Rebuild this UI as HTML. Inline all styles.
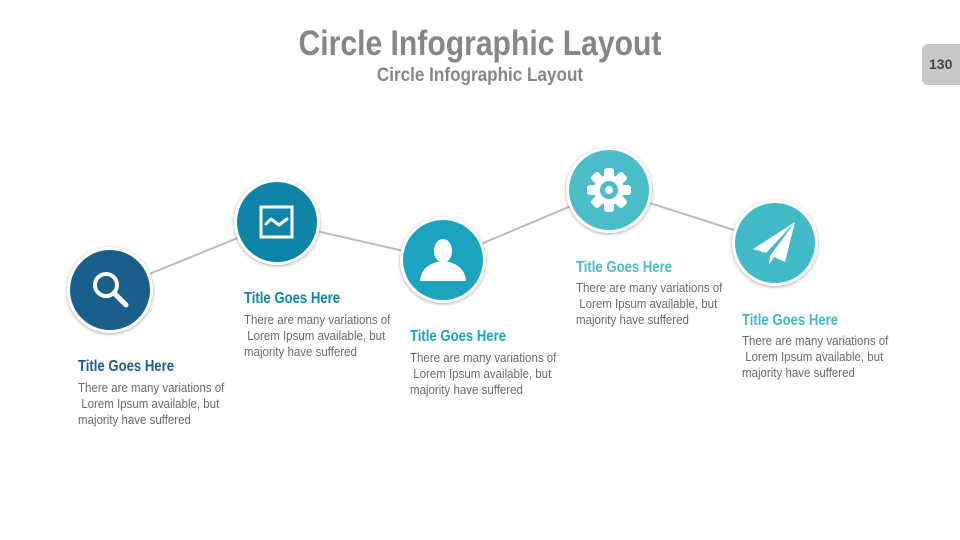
<!DOCTYPE html>
<html><head><meta charset="utf-8"><style>
body{margin:0;width:960px;height:540px;background:#fff;position:relative;overflow:hidden;font-family:"Liberation Sans",sans-serif}
.t{position:absolute;white-space:nowrap;transform-origin:0 0}
.h1{left:480px;top:24px;font-size:35px;font-weight:bold;color:#868686;transform:translateX(-50%) scaleX(0.86);transform-origin:50% 0}
.h2{left:480px;top:65px;font-size:19px;font-weight:bold;color:#868686;transform:translateX(-50%) scaleX(0.9);transform-origin:50% 0}
.pg{position:absolute;left:922px;top:44px;width:45px;height:41px;background:#c8c8c8;border-radius:6px;font-weight:bold;font-size:14px;color:#444;line-height:41px;padding-left:7px;box-sizing:border-box}
.ti{font-size:16px;font-weight:bold;transform:scaleX(0.82)}
.bd{font-size:12.5px;color:#6a6a6a;line-height:16px;transform:scaleX(0.92)}
</style></head><body>
<div class="t h1">Circle Infographic Layout</div>
<div class="t h2">Circle Infographic Layout</div>
<div class="pg">130</div>
<svg width="960" height="540" style="position:absolute;left:0;top:0">
<defs><filter id="s" x="-20%" y="-20%" width="140%" height="140%"><feDropShadow dx="0" dy="1" stdDeviation="1.5" flood-color="#000" flood-opacity="0.35"/></filter></defs>
<polyline points="110,290 277,222 443,260 609,190 775,243" fill="none" stroke="#bbb" stroke-width="2"/>
<g filter="url(#s)">
<circle cx="110" cy="290" r="43" fill="#fff"/><circle cx="277" cy="222" r="43" fill="#fff"/><circle cx="443" cy="260" r="43" fill="#fff"/><circle cx="609" cy="190" r="43" fill="#fff"/><circle cx="775" cy="243" r="43" fill="#fff"/>
</g>
<circle cx="110" cy="290" r="40" fill="#1a5f8c"/>
<circle cx="277" cy="222" r="40" fill="#0e84a8"/>
<circle cx="443" cy="260" r="40" fill="#1ba3bf"/>
<circle cx="609" cy="190" r="40" fill="#4bbdc8"/>
<circle cx="775" cy="243" r="40" fill="#42b9c6"/>
<circle cx="106" cy="285" r="11" fill="none" stroke="#fff" stroke-width="4"/>
<line x1="114" y1="293" x2="126" y2="305" stroke="#fff" stroke-width="5" stroke-linecap="round"/>
<rect x="261" y="207" width="31" height="30" fill="none" stroke="#fff" stroke-width="3"/>
<polyline points="266,224 271,219 279,225 287,219" fill="none" stroke="#fff" stroke-width="3" stroke-linecap="round" stroke-linejoin="round"/>
<ellipse cx="443" cy="251" rx="9" ry="12" fill="#fff"/>
<path d="M420,281 C421,268 430,264 437,262 L449,262 C456,264 465,268 466,281 Z" fill="#fff"/>
<g transform="translate(609,190)" fill="#fff">
<circle r="15"/>
<g><rect x="-5" y="-22" width="10" height="44" rx="3"/><rect x="-5" y="-22" width="10" height="44" rx="3" transform="rotate(45)"/><rect x="-5" y="-22" width="10" height="44" rx="3" transform="rotate(90)"/><rect x="-5" y="-22" width="10" height="44" rx="3" transform="rotate(135)"/></g>
<circle r="9" fill="#4bbdc8"/><circle r="4"/>
</g>
<path d="M795,222 L753,249 L766,253 Z" fill="#fff"/>
<path d="M795,222 L770,256 L769,265 L774,257 L785,262 Z" fill="#fff"/>
</svg>
<div class="t ti" style="left:78px;top:358px;color:#1a5f8c">Title Goes Here</div>
<div class="t bd" style="left:78px;top:380px">There are many variations of<br>&nbsp;Lorem Ipsum available, but<br>majority have suffered</div>
<div class="t ti" style="left:244px;top:290px;color:#0e84a8">Title Goes Here</div>
<div class="t bd" style="left:244px;top:312px">There are many variations of<br>&nbsp;Lorem Ipsum available, but<br>majority have suffered</div>
<div class="t ti" style="left:410px;top:328px;color:#1ba3bf">Title Goes Here</div>
<div class="t bd" style="left:410px;top:350px">There are many variations of<br>&nbsp;Lorem Ipsum available, but<br>majority have suffered</div>
<div class="t ti" style="left:576px;top:259px;color:#4bbdc8">Title Goes Here</div>
<div class="t bd" style="left:576px;top:280px">There are many variations of<br>&nbsp;Lorem Ipsum available, but<br>majority have suffered</div>
<div class="t ti" style="left:742px;top:312px;color:#42b9c6">Title Goes Here</div>
<div class="t bd" style="left:742px;top:333px">There are many variations of<br>&nbsp;Lorem Ipsum available, but<br>majority have suffered</div>
</body></html>
